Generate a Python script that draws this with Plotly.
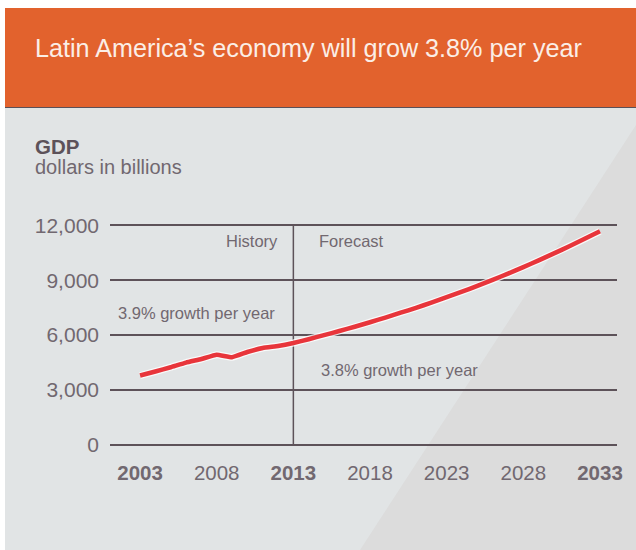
import plotly.graph_objects as go

# ---- data ----
hist_years = [2003, 2004, 2005, 2006, 2007, 2008, 2009, 2010, 2011, 2012, 2013]
hist_gdp = [3780, 4000, 4235, 4490, 4685, 4915, 4783, 5068, 5287, 5397, 5561]
fc_years = [2013, 2014, 2015, 2016, 2017, 2018, 2019, 2020, 2021, 2022, 2023,
            2024, 2025, 2026, 2027, 2028, 2029, 2030, 2031, 2032, 2033]
fc_gdp = [5561, 5770, 5990, 6220, 6450, 6700, 6950, 7220, 7490, 7770, 8070,
          8370, 8690, 9020, 9360, 9720, 10090, 10470, 10860, 11270, 11680]
x_ticks = [2003, 2008, 2013, 2018, 2023, 2028, 2033]
x_tick_labels = ["<b>2003</b>", "2008", "<b>2013</b>", "2018", "2023", "2028", "<b>2033</b>"]
y_ticks = [0, 3000, 6000, 9000, 12000]
y_tick_labels = ["0", "3,000", "6,000", "9,000", "12,000"]
split_year = 2013

title_text = "Latin America\u2019s economy will grow 3.8% per year"

W, H = 636, 550
L, R, T, B = 110, 19, 220, 100
PW = W - L - R
PH = H - T - B

def px(x):
    return (x - L) / PW

def py(y):
    return (H - B - y) / PH

years = hist_years + fc_years[1:]
gdp = hist_gdp + fc_gdp[1:]

DARK = "#5d5259"
LIGHT = "#716870"
FONT = "Liberation Sans, Arial, sans-serif"

fig = go.Figure()
fig.add_trace(go.Scatter(x=years, y=gdp, mode="lines",
                         line=dict(color="rgba(255,255,255,0.8)", width=7, shape="spline", smoothing=0.3),
                         hoverinfo="skip", showlegend=False))
fig.add_trace(go.Scatter(x=years, y=gdp, mode="lines",
                         line=dict(color="#e8353b", width=4.5, shape="spline", smoothing=0.3),
                         showlegend=False))

shapes = [
    dict(type="rect", xref="paper", yref="paper", x0=px(5), x1=px(636), y0=py(550), y1=py(107),
         fillcolor="#e1e4e5", line=dict(width=0), layer="below"),
    dict(type="path", xref="paper", yref="paper",
         path=f"M {px(636)} {py(125)} L {px(360)} {py(550)} L {px(636)} {py(550)} Z",
         fillcolor="#dcdcdc", line=dict(width=0), layer="below"),
    dict(type="rect", xref="paper", yref="paper", x0=px(5), x1=px(636), y0=py(107), y1=py(8),
         fillcolor="#e2622d", line=dict(width=0), layer="below"),
    dict(type="line", xref="paper", yref="paper", x0=px(5), x1=px(636), y0=py(107.5), y1=py(107.5),
         line=dict(color="#5a5058", width=1.2)),
    dict(type="line", xref="x", yref="y", x0=split_year, x1=split_year, y0=0, y1=12000,
         line=dict(color=DARK, width=1.5), layer="below"),
]

def ann(text, x, y, size, color, xanchor="left", bold=False):
    return dict(text=f"<b>{text}</b>" if bold else text, xref="paper", yref="paper",
                x=px(x), y=py(y), xanchor=xanchor, yanchor="middle", showarrow=False,
                font=dict(family=FONT, size=size, color=color))

annotations = [
    ann(title_text, 33, 48, 25.2, "#fbeee6"),
    ann("GDP", 33, 146, 20.5, DARK, bold=True),
    ann("dollars in billions", 33, 167, 20, LIGHT),
    ann("History", 280, 241, 16.5, LIGHT, xanchor="right"),
    ann("Forecast", 317, 241, 16.5, LIGHT),
    ann("3.9% growth per year", 116, 313, 16.5, LIGHT),
    ann("3.8% growth per year", 319, 370, 16.5, LIGHT),
]

fig.update_layout(
    width=W, height=H,
    margin=dict(l=L, r=R, t=T, b=B, pad=0),
    paper_bgcolor="white", plot_bgcolor="rgba(0,0,0,0)",
    shapes=shapes, annotations=annotations,
    font=dict(family=FONT, color=LIGHT),
    xaxis=dict(range=[2001.04, 2034.11], tickvals=x_ticks, ticktext=x_tick_labels,
               showgrid=False, zeroline=False, showline=False, ticks="",
               ticklabelstandoff=8,
               tickfont=dict(size=20.5, color=LIGHT), fixedrange=True),
    yaxis=dict(range=[-300, 12300], tickvals=y_ticks, ticktext=y_tick_labels,
               showgrid=True, gridcolor=DARK, gridwidth=1.5,
               zeroline=True, zerolinecolor=DARK, zerolinewidth=1.5, showline=False,
               ticks="", ticklabelstandoff=10,
               tickfont=dict(size=21, color=LIGHT), fixedrange=True),
)

fig.write_html("out.html", config={"displayModeBar": False},
               post_script="document.body.style.margin='0';")
